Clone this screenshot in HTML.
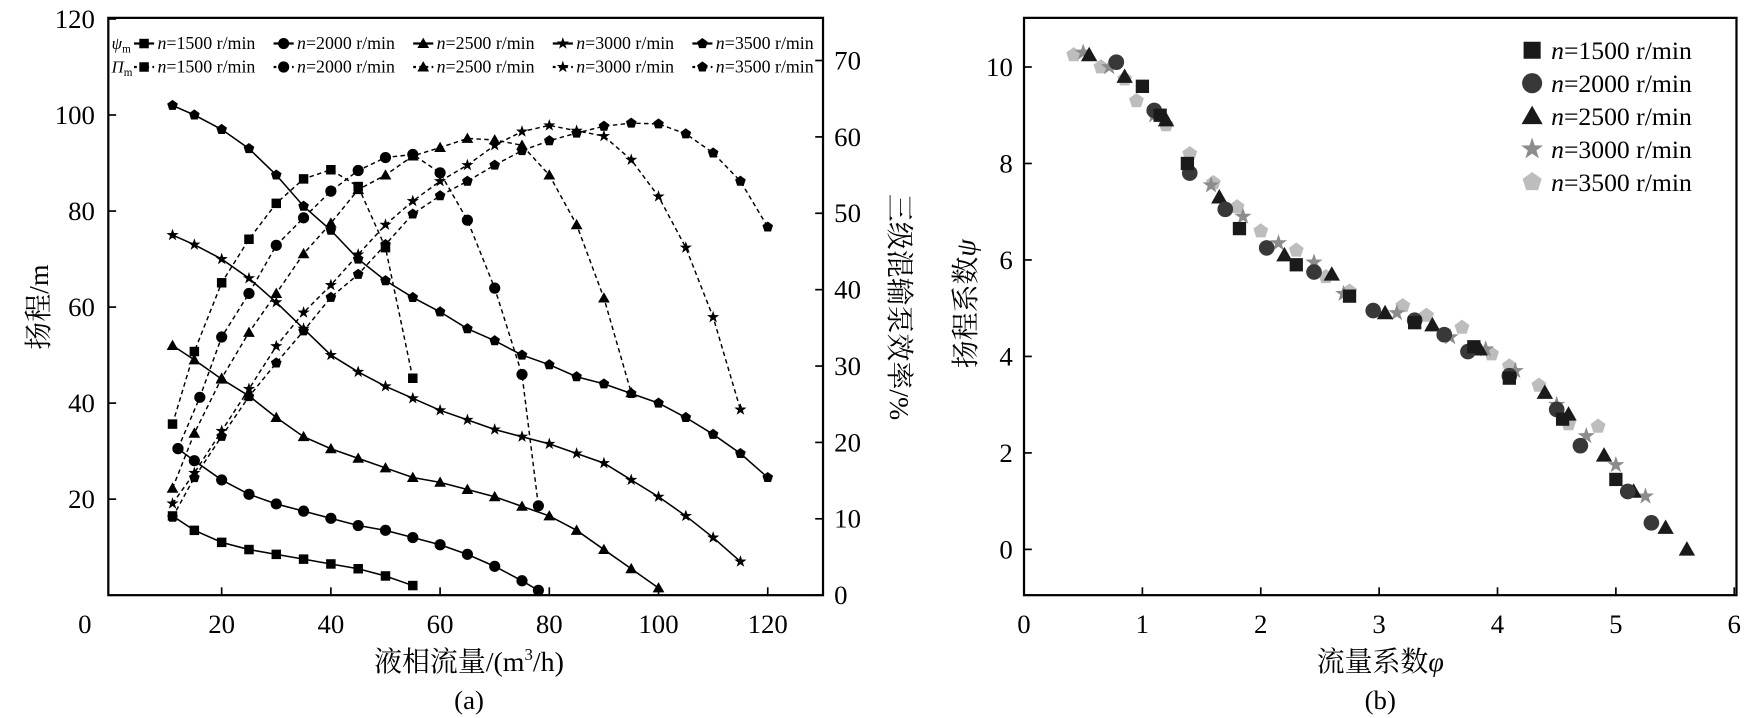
<!DOCTYPE html>
<html><head><meta charset="utf-8"><style>
html,body{margin:0;padding:0;background:#fff;}
svg{display:block;font-family:"Liberation Serif","Noto Serif CJK SC","Noto Sans CJK SC",serif;}
</style></head><body>
<svg id="chart" width="1751" height="718" viewBox="0 0 1568 643" preserveAspectRatio="none" xmlns="http://www.w3.org/2000/svg">
<g id="pa"></g>
<g id="pb"></g>
</svg>
<script>
// ---------- Panel (a) data ----------
const speedLabels = ["n=1500 r/min","n=2000 r/min","n=2500 r/min","n=3000 r/min","n=3500 r/min"];
const markerShapes = ["square","circle","triangle","star","pentagon"];
const flowTicks = [0,20,40,60,80,100,120];
const headTicks = [20,40,60,80,100,120];
const effTicks = [0,10,20,30,40,50,60,70];
const head1500Q = [11,15,20,25,30,35,40,45,50,55];
const head1500H = [16.5,13.5,11,9.5,8.5,7.5,6.5,5.5,4,2];
const head2000Q = [12,15,20,25,30,35,40,45,50,55,60,65,70,75,78];
const head2000H = [30.5,28,24,21,19,17.5,16,14.5,13.5,12,10.5,8.5,6,3,1];
const head2500Q = [11,15,20,25,30,35,40,45,50,55,60,65,70,75,80,85,90,95,100];
const head2500H = [52,49,45,41.5,37,33,30.5,28.5,26.5,24.5,23.5,22,20.5,18.5,16.5,13.5,9.5,5.5,1.5];
const head3000Q = [11,15,20,25,30,35,40,45,50,55,60,65,70,75,80,85,90,95,100,105,110,115];
const head3000H = [75,73,70,66,61,55.5,50,46.5,43.5,41,38.5,36.5,34.5,33,31.5,29.5,27.5,24,20.5,16.5,12,7];
const head3500Q = [11,15,20,25,30,35,40,45,50,55,60,65,70,75,80,85,90,95,100,105,110,115,120];
const head3500H = [102,100,97,93,87.5,81,76,70,65.5,62,59,55.5,53,50,48,45.5,44,42,40,37,33.5,29.5,24.5];
const eff1500Q = [11,15,20,25,30,35,40,45,50,55];
const eff1500E = [22.4,31.9,40.9,46.6,51.3,54.5,55.7,53.5,45.5,28.4];
const eff2000Q = [12,16,20,25,30,35,40,45,50,55,60,65,70,75,78];
const eff2000E = [19.2,25.9,33.8,39.5,45.8,49.4,52.9,55.6,57.3,57.7,55.3,49.1,40.2,28.9,11.7];
const eff2500Q = [11,15,20,25,30,35,40,45,50,55,60,65,70,75,80,85,90,95];
const eff2500E = [14,21.2,28.4,34.4,39.5,44.7,48.7,53.1,55,57.5,58.6,59.8,59.6,58.9,55,48.5,38.9,26.5];
const eff3000Q = [11,15,20,25,30,35,40,45,50,55,60,65,70,75,80,85,90,95,100,105,110,115];
const eff3000E = [12,16,21.5,27,32.6,37,40.6,44.6,48.5,51.6,54.2,56.3,58.9,60.7,61.5,60.8,60.1,57,52.2,45.5,36.4,24.3];
const eff3500Q = [11,15,20,25,30,35,40,45,50,55,60,65,70,75,80,85,90,95,100,105,110,115,120];
const eff3500E = [10.2,15.4,20.8,26,30.4,34.6,39,42,45.9,49.9,52.3,54.2,56.3,58.2,59.5,60.5,61.4,61.8,61.7,60.4,57.9,54.2,48.2];
// ---------- Panel (b) data ----------
const phiTicks = [0,1,2,3,4,5,6];
const psiTicks = [0,2,4,6,8,10];
const b1500Phi = [1.0,1.15,1.38,1.82,2.3,2.75,3.3,3.8,4.1,4.55,5.0];
const b1500Psi = [9.6,9.0,8.0,6.65,5.9,5.25,4.7,4.2,3.55,2.7,1.45];
const b2000Phi = [0.78,1.1,1.4,1.7,2.05,2.45,2.95,3.3,3.55,3.75,4.1,4.5,4.7,5.1,5.3];
const b2000Psi = [10.1,9.1,7.8,7.05,6.25,5.75,4.95,4.75,4.45,4.1,3.6,2.9,2.15,1.2,0.55];
const b2500Phi = [0.55,0.85,1.2,1.65,2.2,2.6,3.05,3.45,3.85,4.4,4.6,4.9,5.15,5.42,5.6];
const b2500Psi = [10.25,9.8,8.9,7.3,6.1,5.7,4.9,4.65,4.15,3.25,2.8,1.95,1.2,0.45,0];
const b3000Phi = [0.5,0.72,1.1,1.58,1.85,2.15,2.45,2.7,3.15,3.6,3.9,4.15,4.5,4.75,5.0,5.25];
const b3000Psi = [10.3,10.0,9.0,7.55,6.9,6.35,5.95,5.3,4.9,4.4,4.15,3.7,3.0,2.35,1.75,1.1];
const b3500Phi = [0.42,0.65,0.85,0.95,1.2,1.4,1.6,1.8,2.0,2.3,2.55,2.75,3.2,3.4,3.7,3.95,4.1,4.35,4.6,4.85];
const b3500Psi = [10.25,10.0,9.75,9.3,8.8,8.2,7.6,7.1,6.6,6.2,5.65,5.35,5.05,4.85,4.6,4.05,3.8,3.4,2.6,2.55];

const NS="http://www.w3.org/2000/svg";
function mk(tag,attrs,parent,txt){const e=document.createElementNS(NS,tag);for(const k in attrs)e.setAttribute(k,attrs[k]);if(txt!==undefined)e.textContent=txt;parent.appendChild(e);return e;}
function shapePath(shape,cx,cy,r){
  if(shape==="square") return `M${cx-r*0.85},${cy-r*0.85}h${r*1.7}v${r*1.7}h${-r*1.7}z`;
  if(shape==="circle") return `M${cx-r},${cy}a${r},${r} 0 1,0 ${2*r},0a${r},${r} 0 1,0 ${-2*r},0z`;
  if(shape==="triangle") return `M${cx},${cy-r*1.05}L${cx+r*1.05},${cy+r*0.8}L${cx-r*1.05},${cy+r*0.8}z`;
  let pts=[];
  if(shape==="star"){for(let i=0;i<10;i++){const a=-Math.PI/2+i*Math.PI/5;const rr=i%2?r*0.45:r*1.15;pts.push((cx+rr*Math.cos(a)).toFixed(2)+","+(cy+rr*Math.sin(a)).toFixed(2));}}
  else {for(let i=0;i<5;i++){const a=-Math.PI/2+i*2*Math.PI/5;pts.push((cx+r*Math.cos(a)).toFixed(2)+","+(cy+r*Math.sin(a)).toFixed(2));}}
  return "M"+pts.join("L")+"z";
}

// ---------- Panel (a) ----------
const pa=document.getElementById('pa');
const AX0=100.7, AXS=4.89, AL=97, AR=737, AT=16, AB=533;
const ax=q=>AX0+q*AXS, ayH=h=>AB-h*4.3, ayE=e=>AB-e*6.84;
let frameA=mk('rect',{x:AL,y:AT,width:AR-AL,height:AB-AT,fill:'none',stroke:'#000','stroke-width':2},pa);


flowTicks.forEach(t=>{
  const x=ax(t);
  if(t>0){let l=mk('line',{x1:x,y1:AB,x2:x,y2:AB-7,stroke:'#000','stroke-width':1.5},pa);}
  let tx=mk('text',{x:t===0?76:x,y:AB+34,'font-size':24,'text-anchor':'middle'},pa,String(t));
  
  
});
headTicks.forEach(t=>{
  const y=ayH(t);
  let l=mk('line',{x1:AL,y1:y,x2:AL+7,y2:y,stroke:'#000','stroke-width':1.5},pa);
  let tx=mk('text',{x:AL-12,y:y+8,'font-size':24,'text-anchor':'end'},pa,String(t));
  
  
});
effTicks.forEach(t=>{
  const y=ayE(t);
  let l=mk('line',{x1:AR,y1:y,x2:AR-7,y2:y,stroke:'#000','stroke-width':1.5},pa);
  let tx=mk('text',{x:AR+10,y:y+8,'font-size':24,'text-anchor':'start'},pa,String(t));
  
  
});
const headQ=[head1500Q,head2000Q,head2500Q,head3000Q,head3500Q], headH=[head1500H,head2000H,head2500H,head3000H,head3500H];
const effQ=[eff1500Q,eff2000Q,eff2500Q,eff3000Q,eff3500Q], effE=[eff1500E,eff2000E,eff2500E,eff3000E,eff3500E];
for(let s=0;s<5;s++){
  let pl=mk('polyline',{points:headQ[s].map((q,i)=>ax(q)+","+ayH(headH[s][i])).join(" "),fill:'none',stroke:'#000','stroke-width':1.4},pa);
  
  
  let pe=mk('polyline',{points:effQ[s].map((q,i)=>ax(q)+","+ayE(effE[s][i])).join(" "),fill:'none',stroke:'#000','stroke-width':1.3,'stroke-dasharray':'4,3'},pa);
  
  
}
for(let s=0;s<5;s++){
  headQ[s].forEach((q,i)=>{let m=mk('path',{d:shapePath(markerShapes[s],ax(q),ayH(headH[s][i]),5),fill:'#000'},pa);});
  effQ[s].forEach((q,i)=>{let m=mk('path',{d:shapePath(markerShapes[s],ax(q),ayE(effE[s][i]),5),fill:'#000'},pa);});
}
// legend (a)
const legX=[129,254,379,504,629];
[["ψ",39,false],["Π",60,true]].forEach(([sym,ly,dash])=>{
  let lab=mk('text',{x:100,y:ly+5,'font-size':15,'font-style':'italic'},pa,sym);
  
  
  mk('tspan',{'font-size':10,'font-style':'normal',dy:3},lab,'m');
  for(let s=0;s<5;s++){
    let g=mk('g',{},pa);
    
    
    mk('line',{x1:legX[s]-9,y1:ly,x2:legX[s]+9,y2:ly,stroke:'#000','stroke-width':2,'stroke-dasharray':dash?'2.5,3':'none'},g);
    mk('path',{d:shapePath(markerShapes[s],legX[s],ly,5),fill:'#000'},g);
    let t=mk('text',{x:legX[s]+12,y:ly+5,'font-size':16},g);
    mk('tspan',{'font-style':'italic'},t,'n');
    mk('tspan',{},t,speedLabels[s].slice(1));
  }
});
let xta=mk('text',{x:420,y:601,'font-size':25,'text-anchor':'middle'},pa,'液相流量/(m');


mk('tspan',{'font-size':15,dy:-10},xta,'3');
mk('tspan',{dy:10},xta,'/h)');
let capa=mk('text',{x:420,y:635,'font-size':24,'text-anchor':'middle'},pa,'(a)');


let yta=mk('text',{x:0,y:0,'font-size':25,'text-anchor':'middle',transform:'translate(43,275) rotate(-90)'},pa,'扬程/m');


let yra=mk('text',{x:0,y:0,'font-size':25,'text-anchor':'middle',transform:'translate(797,275) rotate(90)'},pa,'三级混输泵效率/%');



// ---------- Panel (b) ----------
const pb=document.getElementById('pb');
const BX0=917, BXS=106, BL=917, BR=1555, BT=16, BB=533, BY0=492, BYS=43.2;
const bx=v=>BX0+v*BXS, by=v=>BY0-v*BYS;
let frameB=mk('rect',{x:BL,y:BT,width:BR-BL,height:BB-BT,fill:'none',stroke:'#000','stroke-width':2},pb);


phiTicks.forEach(t=>{
  const x=bx(t);
  let l=mk('line',{x1:x,y1:BB,x2:x,y2:BB-7,stroke:'#000','stroke-width':1.5},pb);
  let tx=mk('text',{x:x,y:BB+34,'font-size':24,'text-anchor':'middle'},pb,String(t));
  
  
});
psiTicks.forEach(t=>{
  const y=by(t);
  let l=mk('line',{x1:BL,y1:y,x2:BL+7,y2:y,stroke:'#000','stroke-width':1.5},pb);
  let tx=mk('text',{x:BL-10,y:y+8,'font-size':24,'text-anchor':'end'},pb,String(t));
  
  
});
const bPhi=[b1500Phi,b2000Phi,b2500Phi,b3000Phi,b3500Phi], bPsi=[b1500Psi,b2000Psi,b2500Psi,b3000Psi,b3500Psi];
const bCol=["#1a1a1a","#383838","#1a1a1a","#8c8c8c","#bdbdbd"];
for(let s=4;s>=0;s--){
  bPhi[s].forEach((p,i)=>{let m=mk('path',{d:shapePath(markerShapes[s],bx(p),by(bPsi[s][i]),7),fill:bCol[s]},pb);});
}
for(let s=0;s<5;s++){
  const ly=45+s*29.5;
  let g=mk('g',{},pb);
  
  
  mk('path',{d:shapePath(markerShapes[s],1372,ly,9),fill:bCol[s]},g);
  let t=mk('text',{x:1389,y:ly+8,'font-size':23},g);
  mk('tspan',{'font-style':'italic'},t,'n');
  mk('tspan',{},t,speedLabels[s].slice(1));
}
let xtb=mk('text',{x:1236,y:601,'font-size':25,'text-anchor':'middle'},pb,'流量系数');


mk('tspan',{'font-style':'italic'},xtb,'φ');
let capb=mk('text',{x:1236,y:635,'font-size':24,'text-anchor':'middle'},pb,'(b)');


let ytb=mk('text',{x:0,y:0,'font-size':25,'text-anchor':'middle',transform:'translate(873,272) rotate(-90)'},pb,'扬程系数');


mk('tspan',{'font-style':'italic'},ytb,'ψ');
</script>
</body></html>
